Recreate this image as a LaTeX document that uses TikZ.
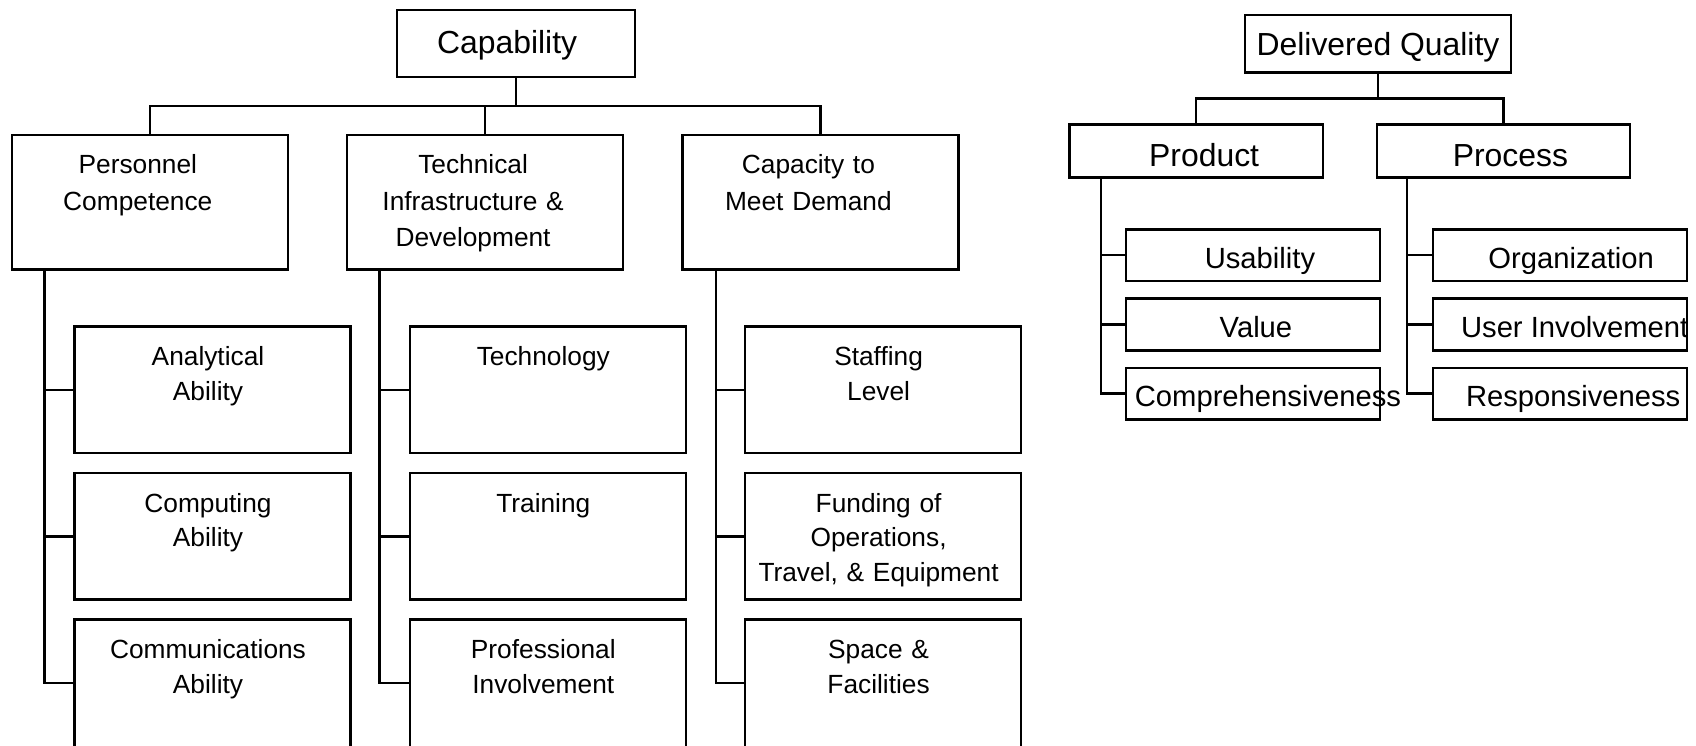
\documentclass[tikz,border=0pt]{standalone}
\usepackage{fontspec}
\setmainfont{Liberation Sans}
\usetikzlibrary{positioning}
\newcommand\topfont{\fontsize{31.9}{36.8}\selectfont}
\newcommand\midfont{\fontsize{26.3}{36.8}\selectfont}
\newcommand\leaffont{\fontsize{26.3}{34.6}\selectfont}
\newcommand\qfont{\fontsize{29.2}{34.6}\selectfont}
\newcommand\shft[2]{\makebox[0pt]{\hspace*{#1}#2}}

\begin{document}
\begin{tikzpicture}[x=1pt,y=-1pt,line width=2.4pt,
  every node/.style={draw,outer sep=0pt,inner sep=0pt},
  mid/.style={font=\midfont,text width=275.8pt,align=center,text height=38pt,text depth=96.1pt,
    execute at begin node={\leftskip=0pt plus 1fil\rightskip=24pt plus 1fil\parfillskip=0pt\relax}},
  leaf/.style={font=\leaffont,text width=275.8pt,align=center,text height=38.9pt,text depth=87.6pt,
    execute at begin node={\leftskip=0pt plus 1fil\rightskip=9pt plus 1fil\parfillskip=0pt\relax}},
  lastleaf/.style={leaf,text depth=240pt},
  qtop/.style={font=\topfont,minimum width=266pt,text height=40pt,text depth=17.3pt},
  qmid/.style={font=\topfont,minimum width=253.1pt,text height=42pt,text depth=11pt},
  qleaf/.style={font=\qfont,minimum width=254.2pt,text height=39pt,text depth=12.9pt}]
  \useasboundingbox (0,0) rectangle (1696,745);
  \clip (0,0) rectangle (1696,745);
  % capability tree
  \node[font=\topfont,minimum width=238pt,text height=43.6pt,text depth=23.4pt] (cap) at (516,43.3) {\shft{-17.8pt}{Capability}};
  \node[mid] (pers) at (149.8,202.3) {Personnel\\Competence};
  \node[mid] (tech) [right=59.5pt of pers] {Technical\\Infrastructure \&\\Development};
  \node[mid] (capd) [right=59.5pt of tech] {Capacity to\\Meet Demand};
  \node[leaf] (pa1) [below right=57.3pt and 62.7pt of pers.south west] {Analytical\\Ability};
  \node[leaf] (pa2) [below=20pt of pa1] {Computing\\Ability};
  \node[lastleaf] (pa3) [below=20pt of pa2] {Communications\\Ability};
  \node[leaf] (ta1) [below right=57.3pt and 62.7pt of tech.south west] {Technology};
  \node[leaf] (ta2) [below=20pt of ta1] {Training};
  \node[lastleaf] (ta3) [below=20pt of ta2] {Professional\\Involvement};
  \node[leaf] (ca1) [below right=57.3pt and 62.7pt of capd.south west] {Staffing\\Level};
  \node[leaf] (ca2) [below=20pt of ca1] {Funding of\\Operations,\\Travel, \& Equipment};
  \node[lastleaf] (ca3) [below=20pt of ca2] {Space \&\\Facilities};
  \draw (cap.south) -- ++(0,29.2) coordinate (cb);
  \draw (pers.north) |- (cb) -| (capd.north);
  \draw (tech.north) -- (tech.north |- cb);
  \coordinate (ps) at ([xshift=32.4pt]pers.south west);
  \coordinate (ts) at ([xshift=32.4pt]tech.south west);
  \coordinate (cs) at ([xshift=33.5pt]capd.south west);
  \draw (ps) |- ([yshift=-63.3pt]pa3.north west);
  \draw (ps |- pa1.west) -- (pa1.west);
  \draw (ps |- pa2.west) -- (pa2.west);
  \draw (ts) |- ([yshift=-63.3pt]ta3.north west);
  \draw (ts |- ta1.west) -- (ta1.west);
  \draw (ts |- ta2.west) -- (ta2.west);
  \draw (cs) |- ([yshift=-63.3pt]ca3.north west);
  \draw (cs |- ca1.west) -- (ca1.west);
  \draw (cs |- ca2.west) -- (ca2.west);
  % quality tree
  \node[qtop] (dq) at (1378,43.8) {Delivered Quality};
  \node[qmid] (prod) at (1196.2,150.9) {\shft{15.8pt}{Product}};
  \node[qmid] (proc) [right=54.1pt of prod] {\shft{14pt}{Process}};
  \node[qleaf] (pu) [below right=51.9pt and 56.2pt of prod.south west] {\shft{14pt}{Usability}};
  \node[qleaf] (pv) [below=17.3pt of pu] {\shft{6pt}{Value}};
  \node[qleaf] (pc) [below=17.3pt of pv] {\shft{30pt}{Comprehensiveness}};
  \node[qleaf] (po) [below right=51.9pt and 56.2pt of proc.south west] {\shft{22pt}{Organization}};
  \node[qleaf] (pi) [below=17.3pt of po] {\shft{29pt}{User Involvement}};
  \node[qleaf] (pr) [below=17.3pt of pi] {\shft{26pt}{Responsiveness}};
  \draw (dq.south) -- ++(0,26) coordinate (qb);
  \draw (prod.north) |- (qb) -| (proc.north);
  \coordinate (pd) at ([xshift=31.4pt]prod.south west);
  \coordinate (qd) at ([xshift=30.3pt]proc.south west);
  \draw (pd) |- (pc.west);
  \draw (pd |- pu.west) -- (pu.west);
  \draw (pd |- pv.west) -- (pv.west);
  \draw (qd) |- (pr.west);
  \draw (qd |- po.west) -- (po.west);
  \draw (qd |- pi.west) -- (pi.west);
\end{tikzpicture}
\end{document}
